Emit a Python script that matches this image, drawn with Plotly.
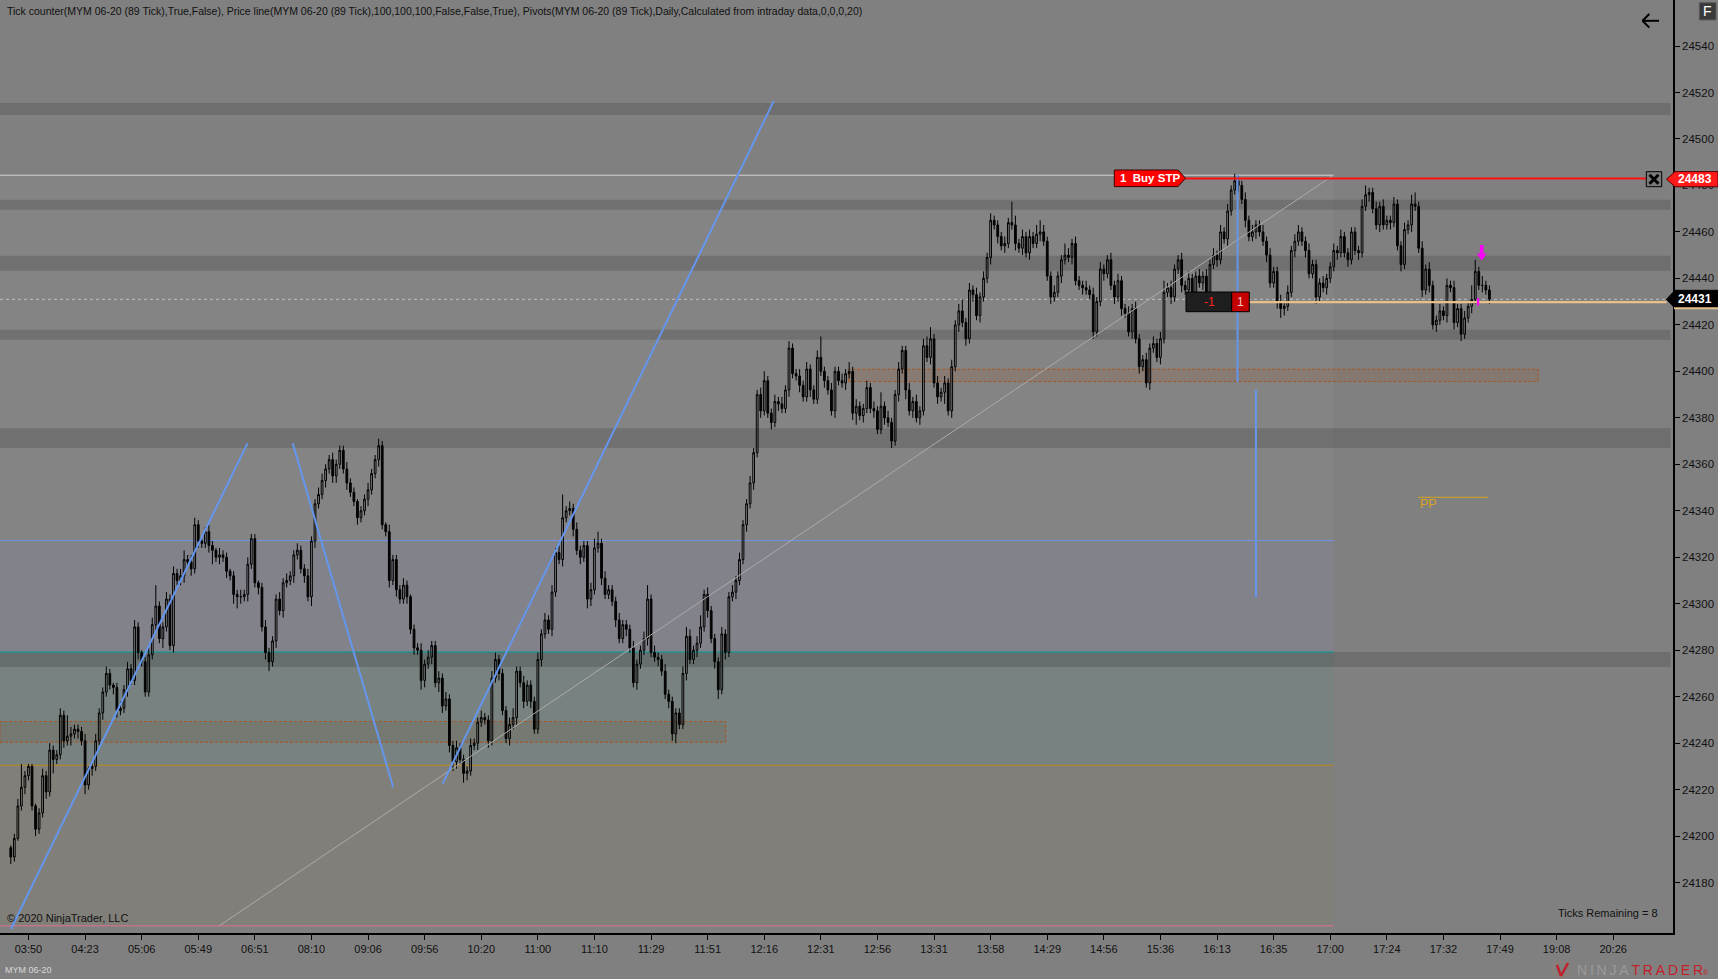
import plotly.graph_objects as go

# ---------------- data ----------------
first_open = 24195

close_a = [  # bars 0-88
    24191, 24199, 24213, 24221, 24226, 24230, 24213, 24203, 24210, 24226,
    24219, 24237, 24233, 24235, 24252, 24241, 24243, 24244, 24246, 24245,
    24241, 24222, 24229, 24230, 24241, 24253, 24262, 24270, 24265, 24264,
    24254, 24255, 24263, 24272, 24267, 24290, 24279, 24275, 24262, 24278,
    24291, 24299, 24285, 24290, 24302, 24282, 24313, 24310, 24312, 24319,
    24318, 24315, 24334, 24327, 24326, 24331, 24325, 24323, 24320, 24321,
    24320, 24314, 24312, 24304, 24303, 24303, 24304, 24317, 24328, 24309,
    24307, 24290, 24279, 24275, 24284, 24302, 24297, 24309, 24310, 24312,
    24321, 24323, 24315, 24312, 24303, 24327, 24343, 24347, 24353]
close_b = [  # bars 89-104
    24358, 24362, 24355, 24360, 24366, 24358, 24352, 24348, 24344, 24337,
    24340, 24345, 24349, 24356, 24362, 24368]
close_c = [  # bars 105-216
    24334, 24331, 24310, 24319, 24306, 24302, 24308, 24303, 24289, 24281,
    24280, 24267, 24274, 24277, 24282, 24266, 24268, 24256, 24259, 24239,
    24232, 24238, 24233, 24227, 24228, 24239, 24240, 24249, 24251, 24250,
    24241, 24268, 24276, 24270, 24254, 24242, 24248, 24251, 24271, 24266,
    24258, 24265, 24258, 24246, 24276, 24287, 24293, 24289, 24305, 24322,
    24319, 24337, 24340, 24341, 24332, 24323, 24320, 24325, 24302, 24306,
    24324, 24326, 24311, 24304, 24306, 24301, 24293, 24285, 24291, 24289,
    24281, 24266, 24274, 24280, 24285, 24302, 24279, 24277, 24276, 24271,
    24261, 24258, 24244, 24253, 24248, 24270, 24286, 24276, 24280, 24283,
    24290, 24304, 24297, 24285, 24275, 24263, 24287, 24279, 24303, 24305,
    24310, 24319, 24334, 24343, 24352, 24365, 24390, 24383, 24396, 24382,
    24378, 24387]
close_d = [  # bars 217-324
    24386, 24384, 24392, 24410, 24399, 24398, 24394, 24389, 24401, 24392,
    24388, 24406, 24400, 24396, 24392, 24383, 24400, 24396, 24395, 24399,
    24400, 24382, 24385, 24381, 24384, 24393, 24384, 24383, 24375, 24385,
    24380, 24378, 24370, 24390, 24401, 24409, 24392, 24383, 24387, 24380,
    24383, 24411, 24406, 24414, 24395, 24389, 24391, 24395, 24383, 24402,
    24420, 24426, 24421, 24414, 24435, 24433, 24424, 24432, 24440, 24449,
    24465, 24463, 24458, 24454, 24455, 24464, 24463, 24455, 24453, 24458,
    24451, 24458, 24455, 24459, 24460, 24456, 24441, 24432, 24434, 24441,
    24448, 24450, 24449, 24455, 24439, 24437, 24436, 24435, 24433, 24417,
    24430, 24444, 24442, 24448, 24437, 24432, 24439, 24427, 24425, 24417,
    24427, 24414, 24402, 24405, 24395, 24410, 24412, 24406]
close_e = [  # bars 325-418
    24414, 24434, 24436, 24432, 24444, 24448, 24437, 24435, 24440, 24434,
    24441, 24438, 24441, 24434, 24446, 24450, 24448, 24460, 24457, 24469,
    24478, 24482, 24480, 24474, 24465, 24458, 24460, 24463, 24460, 24456,
    24450, 24438, 24443, 24430, 24427, 24428, 24434, 24452, 24456, 24460,
    24456, 24452, 24442, 24446, 24432, 24438, 24436, 24440, 24445, 24452,
    24451, 24458, 24451, 24448, 24460, 24452, 24451, 24471, 24476, 24477,
    24470, 24463, 24471, 24463, 24465, 24464, 24472, 24454, 24446, 24461,
    24463, 24472, 24471, 24453, 24435, 24444, 24437, 24420, 24422, 24426,
    24424, 24437, 24436, 24421, 24427, 24416, 24423, 24428, 24431, 24443,
    24437, 24437, 24435, 24431]

upper_wick = [
    1,2,3,10,2,1,1,1,2,3, 2,3,2,2,3,2,9,3,2,2, 2,3,1,2,3,2,2,3,2,1,
    2,3,2,3,2,3,2,1,2,3, 3,9,2,2,3,2,3,2,3,4, 2,3,3,2,1,2,3,2,1,3,
    2,2,1,2,2,3,2,3,2,2, 1,2,3,2,2,2,3,2,3,2, 2,3,2,2,3,2,2,3,3,2,
    2,3,2,2,2,3,2,2,1,2, 2,3,2,2,3,2,1,3,2,2, 2,3,2,1,2,2,3,2,3,2,
    2,3,2,3,2,2,3,2,2,2, 3,2,2,3,2,2,3,3,2,2, 2,3,4,2,2,3,2,2,2,3,
    2,3,2,3,2,3,10,2,3,2, 3,2,2,2,3,4,5,2,3,2, 2,2,3,2,2,2,3,2,2,3,
    6,2,3,2,2,3,2,2,2,2, 3,4,3,2,3,5,2,3,2,2, 2,3,2,2,3,2,3,2,2,3,
    2,2,3,4,2,2,3,2,3,2, 3,2,2,3,2,3,2,2,3,9, 2,2,3,2,2,3,2,4,2,3,
    2,2,3,2,3,2,6,2,3,2, 2,3,2,2,3,2,3,2,3,4, 5,2,3,2,3,2,3,2,3,5,
    2,3,2,3,2,3,2,3,2,2, 2,3,2,9,4,2,3,2,3,2, 4,5,3,2,2,3,2,2,5,3,
    2,3,2,2,3,2,3,2,3,2, 2,3,2,3,2,2,3,2,3,2, 2,3,2,3,2,3,5,2,3,2,
    2,3,2,3,2,2,3,2,3,2, 3,2,3,2,3,2,3,2,2,3, 2,3,2,2,3,2,3,2,2,3,
    2,3,2,3,3,2,2,3,2,2, 2,3,2,2,3,2,3,2,2,2, 2,2,3,4,2,2,3,2,3,2,
    2,3,2,2,3,2,4,5,2,3, 2,3,2,2,3,2,3,2,3,2, 2,3,2,6,5,2,4,2,2]
lower_wick = [
    3,2,1,2,3,2,2,3,2,2, 3,2,6,2,2,3,2,4,2,3, 2,4,2,3,2,2,3,2,2,3,
    3,2,2,3,2,2,3,2,2,2, 2,3,2,4,2,2,3,2,2,3, 2,3,2,3,2,2,3,6,2,3,
    2,3,2,4,5,3,2,3,2,2, 3,2,3,4,2,3,2,3,2,2, 3,2,2,3,2,4,3,2,2,3,
    2,3,3,2,2,3,2,2,3,2, 2,3,2,2,3,2,2,3,2,3, 2,2,3,2,3,2,4,3,2,3,
    2,4,3,2,3,4,3,2,4,3, 2,2,3,2,2,3,2,2,3,2, 2,3,2,3,2,3,2,3,2,2,
    3,2,2,3,2,2,3,2,2,3, 2,3,2,4,3,2,2,3,2,2, 2,3,2,2,3,2,2,3,2,2,
    3,2,2,3,2,2,3,3,4,2, 2,3,2,2,3,2,2,3,2,3, 4,2,3,2,2,3,2,2,3,2,
    3,2,3,2,2,3,2,3,2,2, 3,2,2,3,2,2,3,2,2,2, 3,2,2,3,2,2,3,2,3,5,
    2,3,2,2,3,2,2,3,2,3, 2,3,2,4,2,3,2,3,2,2, 3,2,3,2,5,2,3,2,3,2,
    3,2,3,2,3,2,2,3,2,3, 2,3,2,2,3,2,3,2,3,2, 2,3,2,2,3,2,2,3,2,2,
    3,2,2,3,2,2,3,2,2,3, 2,2,3,2,3,2,2,3,2,3, 2,2,3,2,2,3,2,2,3,2,
    2,3,2,2,3,2,2,3,4,2, 2,3,2,2,3,2,2,3,2,3, 2,2,3,2,2,3,2,2,3,4,
    3,2,2,3,2,2,3,2,2,3, 2,2,3,2,2,3,2,2,3,2, 2,3,2,2,3,2,2,3,2,2,
    3,2,2,3,2,2,3,2,2,3, 2,3,2,3,2,2,3,2,3,2, 3,2,2,3,2,2,3,2,2]

tick_labels = ["03:50", "04:23", "05:06", "05:49", "06:51", "08:10", "09:06", "09:56",
               "10:20", "11:00", "11:10", "11:29", "11:51", "12:16", "12:31", "12:56",
               "13:31", "13:58", "14:29", "14:56", "15:36", "16:13", "16:35", "17:00",
               "17:24", "17:32", "17:49", "19:08", "20:26"]
price_ticks = [24180, 24200, 24220, 24240, 24260, 24280, 24300, 24320, 24340, 24360,
               24380, 24400, 24420, 24440, 24460, 24480, 24500, 24520, 24540]

# drawing objects (bar index, price)
sr_bands = [(24510.3, 24515.5), (24469.5, 24473.8), (24443.3, 24449.7),
            (24413.6, 24417.9), (24367.0, 24375.5), (24272.8, 24279.2)]
fib_top, fib_mid, fib_382, fib_236, fib_bottom = 24484.4, 24327.2, 24279.2, 24230.5, 24161.4
fib_end_bar = 373.9
zones = [(-3.05, 202.1, 24240.4, 24249.3), (236.8, 431.8, 24395.6, 24400.9)]
blue_trend = [((0.06, 24160.0), (66.9, 24369.0)),
              ((79.7, 24369.0), (108.1, 24221.0)),
              ((122.1, 24222.6), (215.7, 24516.4))]
gray_trend = ((58.9, 24161.4), (373.9, 24484.4))
blue_vert = [(346.8, 24395.4, 24484.5), (352.0, 24302.8, 24392.0)]
order_price = 24483
order_line_bars = (331.9, 462.3)
last_price = 24431
position_price = 24429.8
position_bars = (350.1, 468.1)
pp_price = 24345.8
pp_bars = (397.8, 417.6)

# ---------------- build ----------------
closes = close_a + close_b + close_c + close_d + close_e
n = len(closes)
opens = [first_open] + closes[:-1]
highs = [max(o, c) + u for o, c, u in zip(opens, closes, upper_wick)]
lows = [min(o, c) - l for o, c, l in zip(opens, closes, lower_wick)]
bars = list(range(n))

W, H = 1718, 979
MR, MB = 45, 46
PW, PH = W - MR, H - MB
X_RANGE = [-3.05, 469.9]
Y_RANGE = [24158.3, 24559.8]
FONT = "Liberation Sans, Arial, sans-serif"
BG = "#808080"


def px(x):
    return x / PW


def py(y):
    return (PH - y) / PH


shapes = []


def drect(x0, x1, y0, y1, fill, line_color=None, dash=None, lw=1, layer="below"):
    shapes.append(dict(type="rect", xref="x", yref="y", x0=x0, x1=x1, y0=y0, y1=y1,
                       fillcolor=fill, layer=layer,
                       line=dict(color=line_color or "rgba(0,0,0,0)", width=lw if line_color else 0,
                                 dash=dash or "solid")))


def dline(x0, y0, x1, y1, color, width=1, dash="solid", layer="above"):
    shapes.append(dict(type="line", xref="x", yref="y", x0=x0, x1=x1, y0=y0, y1=y1,
                       layer=layer, line=dict(color=color, width=width, dash=dash)))


def prect(x0, x1, y0, y1, fill, line_color=None, lw=1):
    shapes.append(dict(type="rect", xref="paper", yref="paper", x0=px(x0), x1=px(x1),
                       y0=py(y1), y1=py(y0), fillcolor=fill, layer="above",
                       line=dict(color=line_color or "rgba(0,0,0,0)", width=lw if line_color else 0)))


def ppath(points, fill, line_color=None, lw=1):
    d = "M " + " L ".join(f"{px(x):.5f},{py(y):.5f}" for x, y in points) + " Z"
    shapes.append(dict(type="path", xref="paper", yref="paper", path=d, fillcolor=fill,
                       layer="above",
                       line=dict(color=line_color or "rgba(0,0,0,0)", width=lw if line_color else 0)))


def pline(x0, y0, x1, y1, color, width=1):
    shapes.append(dict(type="line", xref="paper", yref="paper", x0=px(x0), x1=px(x1),
                       y0=py(y0), y1=py(y1), layer="above", line=dict(color=color, width=width)))


# fib region tints
drect(X_RANGE[0], fib_end_bar, fib_mid, fib_top, "rgba(255,255,255,0.03)")
drect(X_RANGE[0], fib_end_bar, fib_382, fib_mid, "rgba(150,150,215,0.13)")
drect(X_RANGE[0], fib_end_bar, fib_236, fib_382, "rgba(70,150,135,0.13)")
drect(X_RANGE[0], fib_end_bar, fib_bottom, fib_236, "rgba(140,120,70,0.12)")
# S/R bands
for lo, hi in sr_bands:
    drect(X_RANGE[0], 469.2, lo, hi, "rgba(0,0,0,0.14)")
# demand / supply zones
drect(zones[0][0], zones[0][1], zones[0][2], zones[0][3], "rgba(110,60,20,0.13)",
      "#a8561e", dash="3px,2px", lw=1)
drect(zones[1][0], zones[1][1], zones[1][2], zones[1][3], "rgba(150,90,60,0.22)",
      "#a8561e", dash="3px,2px", lw=1)
# fib lines
dline(X_RANGE[0], fib_top, fib_end_bar, fib_top, "#d4d4d4", 1, layer="below")
dline(X_RANGE[0], fib_mid, fib_end_bar, fib_mid, "#6f94e8", 1, layer="below")
dline(X_RANGE[0], fib_382, fib_end_bar, fib_382, "#129590", 1.3, layer="below")
dline(X_RANGE[0], fib_236, fib_end_bar, fib_236, "#c08a14", 1, layer="below")
dline(X_RANGE[0], fib_bottom, fib_end_bar, fib_bottom, "#e0708c", 1, layer="below")
# price line (dashed) and position line
dline(X_RANGE[0], last_price, 468.1, last_price, "#d0d0d0", 0.8, dash="3px,3px", layer="below")
dline(position_bars[0], position_price, position_bars[1], position_price, "#e6bf8c", 2.2)
# PP
dline(pp_bars[0], pp_price, pp_bars[1], pp_price, "#d9a21f", 1)
# gray trend
dline(gray_trend[0][0], gray_trend[0][1], gray_trend[1][0], gray_trend[1][1], "#ababab", 1)
# blue trend lines
for (a, b) in blue_trend:
    dline(a[0], a[1], b[0], b[1], "#6596ee", 2)
for xb, y0, y1 in blue_vert:
    dline(xb, y0, xb, y1, "#6596ee", 2)
# order line
dline(order_line_bars[0], order_price, order_line_bars[1], order_price, "#ff1010", 2)

# Buy STP label
ppath([(1114.3, 170), (1178, 170), (1185.5, 178.3), (1178, 186.6), (1114.3, 186.6)],
      "#ff0000", "#3a0000", 1)
# X box
prect(1646.3, 1661.7, 171.7, 186.7, "#7a7a7a", "#000000", 1)
pline(1649.5, 174.8, 1658.5, 183.8, "#000000", 3)
pline(1649.5, 183.8, 1658.5, 174.8, "#000000", 3)
# axis price markers
ppath([(1666.5, 179.2), (1675, 171.6), (1718, 171.6), (1718, 186.8), (1675, 186.8)],
      "#ff1a1a", "#500000", 1)
ppath([(1666.5, 299.3), (1675, 290.3), (1718, 290.3), (1718, 308.3), (1675, 308.3)],
      "#000000", "#000000", 1)
pline(1674, 308.3, 1718, 308.3, "#e6bf8c", 2)
# -1 | 1 box
prect(1186, 1231.7, 292, 311.7, "#1e1e1e", "#000000", 1)
prect(1231.7, 1249.3, 292, 311.7, "#c40000", "#000000", 1)
# magenta arrow
prect(1479.9, 1483.5, 245, 253.5, "#ff00ff")
ppath([(1476.7, 253.5), (1486.7, 253.5), (1481.7, 260.5)], "#ff00ff")
prect(1477, 1479.2, 298, 305.5, "#ff00ff")
# back arrow (top right)
pline(1642.5, 20.8, 1659, 20.8, "#000000", 2)
pline(1642.5, 20.8, 1649.3, 14, "#000000", 2)
pline(1642.5, 20.8, 1649.3, 27.6, "#000000", 2)
# F box
prect(1699.3, 1716, 2.7, 20, "#3a3a3a", "#5a5a5a", 1)
# logo icon
shapes.append(dict(type="circle", xref="paper", yref="paper", x0=px(1553), x1=px(1569),
                   y0=py(977), y1=py(962), line=dict(color="#8c7f78", width=2),
                   fillcolor="rgba(0,0,0,0)", layer="above"))
pline(1557, 965, 1561, 976, "#c0202a", 2.5)
pline(1561, 976, 1568, 963, "#c0202a", 2.5)

annotations = []


def ann(x, y, text, size=11, color="#111111", xanchor="left", yanchor="middle", bold=False):
    annotations.append(dict(xref="paper", yref="paper", x=px(x), y=py(y), text=(f"<b>{text}</b>" if bold else text),
                            showarrow=False, xanchor=xanchor, yanchor=yanchor,
                            font=dict(family=FONT, size=size, color=color)))


ann(5, 11, "Tick counter(MYM 06-20 (89 Tick),True,False), Price line(MYM 06-20 (89 Tick),100,100,100,"
           "False,False,True), Pivots(MYM 06-20 (89 Tick),Daily,Calculated from intraday data,0,0,0,20)",
    size=10.5)
ann(5, 918, "© 2020 NinjaTrader, LLC", size=11)
ann(1660, 913, "Ticks Remaining = 8", size=11, xanchor="right")
ann(3, 970, "MYM 06-20", size=9, color="#d8d8d8")
ann(1149.5, 178.3, "1  Buy STP", size=11.5, color="#ffffff", xanchor="center", bold=True)
ann(1695, 179.2, "24483", size=12, color="#ffffff", xanchor="center", bold=True)
ann(1695, 299.3, "24431", size=12, color="#ffffff", xanchor="center", bold=True)
ann(1209, 302, "-1", size=12, color="#ff2020", xanchor="center")
ann(1240.5, 302, "1", size=12, color="#f4c8c8", xanchor="center")
ann(1418, 504, "PP", size=12.5, color="#d9a21f")
ann(1707.6, 11.5, "F", size=14, color="#ffffff", xanchor="center")
ann(1575, 970.5,
    "<span style='color:#9a9a9a'>N\u2009I\u2009N\u2009J\u2009A\u2009</span>"
    "<span style='color:#c4202a'>T\u2009R\u2009A\u2009D\u2009E\u2009R</span>"
    "<span style='color:#c4202a;font-size:7px'>®</span>", size=14)

fig = go.Figure()
fig.add_trace(go.Candlestick(
    x=bars, open=opens, high=highs, low=lows, close=closes,
    increasing=dict(line=dict(color="#000000", width=1), fillcolor="rgba(0,0,0,0)"),
    decreasing=dict(line=dict(color="#000000", width=1), fillcolor="#050505"),
    whiskerwidth=0, hoverinfo="skip", showlegend=False))

tick_bars = [5 + 16 * k for k in range(len(tick_labels))]

fig.update_layout(
    width=W, height=H,
    margin=dict(l=0, r=MR, t=0, b=MB, autoexpand=False),
    paper_bgcolor=BG, plot_bgcolor=BG,
    showlegend=False,
    font=dict(family=FONT, size=11, color="#111111"),
    shapes=shapes, annotations=annotations,
    xaxis=dict(range=X_RANGE, rangeslider=dict(visible=False), tickmode="array",
               tickvals=tick_bars, ticktext=tick_labels, ticks="outside", ticklen=5,
               tickcolor="#000000", tickwidth=1.3, showline=True, linecolor="#000000",
               linewidth=1.5, showgrid=False, zeroline=False,
               tickfont=dict(family=FONT, size=11, color="#111111"), fixedrange=True),
    yaxis=dict(range=Y_RANGE, side="right", tickmode="array", tickvals=price_ticks,
               ticktext=[str(v) for v in price_ticks], ticks="outside", ticklen=5,
               tickcolor="#000000", tickwidth=1.3, showline=True, linecolor="#000000",
               linewidth=1.5, showgrid=False, zeroline=False,
               tickfont=dict(family=FONT, size=11.5, color="#111111"), fixedrange=True),
)

fig.write_html("out.html", config=dict(displayModeBar=False),
               post_script="document.body.style.margin='0';document.body.style.overflow='hidden';")
